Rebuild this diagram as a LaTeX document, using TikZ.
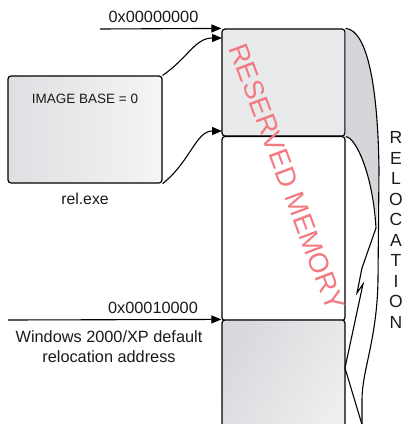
\documentclass[tikz,border=0pt]{standalone}
\usepackage{fontspec}
\setmainfont{Liberation Sans}
\usetikzlibrary{arrows.meta}
\definecolor{txt}{HTML}{1A1A1A}
\definecolor{blockgray}{HTML}{E9EAEC}
\definecolor{darkgray2}{HTML}{D8D9DC}
\definecolor{lightgray2}{HTML}{EEEEF0}
\definecolor{relgray}{HTML}{D5D6D9}
\definecolor{resred}{RGB}{242,122,128}
\begin{document}
\begin{tikzpicture}[x=1pt,y=-1pt,
  blk/.style={draw=black,line width=1.2pt,rounded corners=3pt,inner sep=0pt},
  arr/.style={-{Triangle[length=10pt,width=8pt]},line width=1.1pt,black},
  lbl/.style={font=\fontsize{16.3}{18}\selectfont,text=txt,inner sep=0pt},
  thin/.style={line width=1.1pt,black}]
\useasboundingbox (0,0) rectangle (403,424);
% memory blocks
\node[blk,fill=blockgray,minimum width=123pt,minimum height=107pt] (tb) at (283.5,82.5) {};
\node[blk,fill=white,minimum width=123pt,minimum height=184pt] (mb) at (283.5,228.5) {};
\node[blk,left color=darkgray2,right color=lightgray2,shading angle=60,minimum width=123pt,minimum height=112pt] (bb) at (283.5,376) {};
% left box
\node[blk,left color=darkgray2!70!lightgray2,right color=lightgray2!60!white,minimum width=154pt,minimum height=107pt] (lb) at (85,129.5) {};
\node[lbl,font=\fontsize{13.5}{16}\selectfont] (ib) at (85,99) {IMAGE BASE = 0};
\node[lbl,font=\fontsize{15.8}{18}\selectfont] (rel) at (85,199) {rel.exe};
% relocation curved arrow
\fill[relgray] (tb.north east) .. controls (368,30) and (378,90) .. (379,170) -- (377,226)
   .. controls (373,175) and (356,137) .. (tb.south east) -- cycle;
\draw[thin] (tb.north east) .. controls (368,30) and (378,90) .. (379,170) -- (378,280)
   .. controls (377,340) and (362,370) .. (362,400) -- (362,432);
\draw[thin,line join=miter] (tb.south east) .. controls (356,137) and (373,175) .. (376,228)
   -- (362,268) -- (357,293) -- (363,284) -- (345,368) -- (363,428);
\node[font=\fontsize{17.5}{20.5}\selectfont,text=txt,align=center,inner sep=0pt] (reloc) at (396,230)
  {R\\E\\L\\O\\C\\A\\T\\I\\O\\N};
% reserved memory
\node[font=\fontsize{27.5}{28}\selectfont,text=resred,rotate=-69.5,inner sep=0pt] (res) at (287,177) {RESERVED MEMORY};
% address arrows
\coordinate (a0) at (100,29);
\draw[arr] (a0) -- (tb.north west);
\node[lbl] (l0) at (153.5,17) {0x00000000};
\coordinate (c1) at (222,38);
\coordinate (c2) at (222,131);
\draw[arr] (lb.north east) .. controls (188,58) and (195,38) .. (c1);
\draw[arr] (lb.south east) .. controls (190,162) and (196,131) .. (c2);
\coordinate (b0) at (8,320);
\draw[arr] (b0) -- (bb.north west);
\node[lbl] (l1) at (153,308) {0x00010000};
\node[lbl,align=center,font=\fontsize{16.3}{20}\selectfont] (win) at (109,346.5) {Windows 2000/XP default\\relocation address};
\end{tikzpicture}
\end{document}
